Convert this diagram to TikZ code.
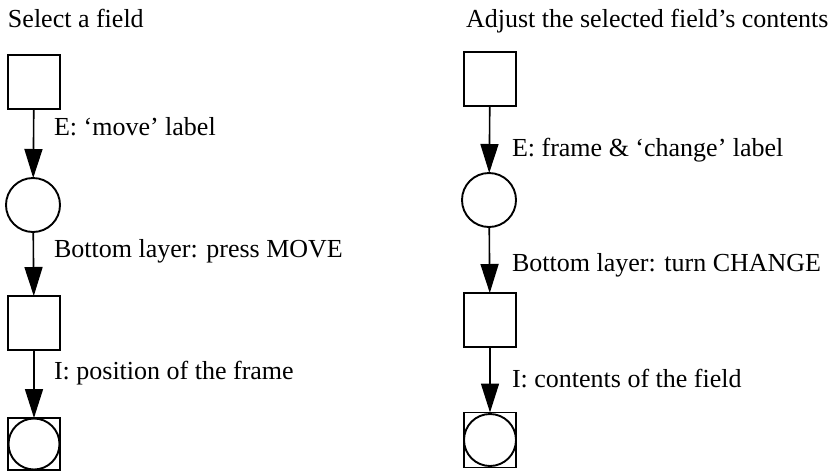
\documentclass[tikz,border=0pt]{standalone}
\usepackage{fontspec}
\setmainfont{Liberation Serif}
\usetikzlibrary{arrows.meta}
\begin{document}
\begin{tikzpicture}[x=1pt,y=-1pt,
  every node/.style={inner sep=0pt,outer sep=0pt},
  state/.style={draw,line width=1.9pt,minimum width=52pt,minimum height=54pt},
  place/.style={draw,circle,line width=1.9pt,minimum size=54pt},
  txt/.style={anchor=base west,font=\fontsize{26}{30}\selectfont},
  flow/.style={line width=1.6pt,-{Triangle[length=29pt,width=18pt]}}]
\useasboundingbox (0,0) rectangle (837,472);

% left column
\node[txt] (lt) at (8,27) {Select a field};
\node[state] (l1) at (34,82) {};
\node[place] (l2) at (33,205) {};
\node[state] (l3) at (34,323) {};
\node[state,minimum height=52pt] (l4) at (34,444) {};
\node[place,minimum size=51pt] (l4c) at (34,444) {};
\draw[flow] (l1) -- (l2);
\draw[flow] (l2) -- (l3);
\draw[flow] (l3) -- (l4);
\node[txt] at (54,135) {E: ‘move’ label};
\node[txt] at (54,257) {Bottom layer: press MOVE};
\node[txt] at (54,379) {I: position of the frame};

% right column
\node[txt] (rt) at (466,27) {Adjust the selected field’s contents};
\node[state] (r1) at (490,79) {};
\node[place] (r2) at (489,200) {};
\node[state] (r3) at (490,320) {};
\node[state,minimum height=55pt] (r4) at (490,440) {};
\node[place,minimum size=52pt] (r4c) at (490,440) {};
\draw[flow] (r1) -- (r2);
\draw[flow] (r2) -- (r3);
\draw[flow] (r3) -- (r4);
\node[txt] at (512,156) {E: frame \& ‘change’ label};
\node[txt] at (512,271) {Bottom layer: turn CHANGE};
\node[txt] at (512,387) {I: contents of the field};
\end{tikzpicture}
\end{document}
